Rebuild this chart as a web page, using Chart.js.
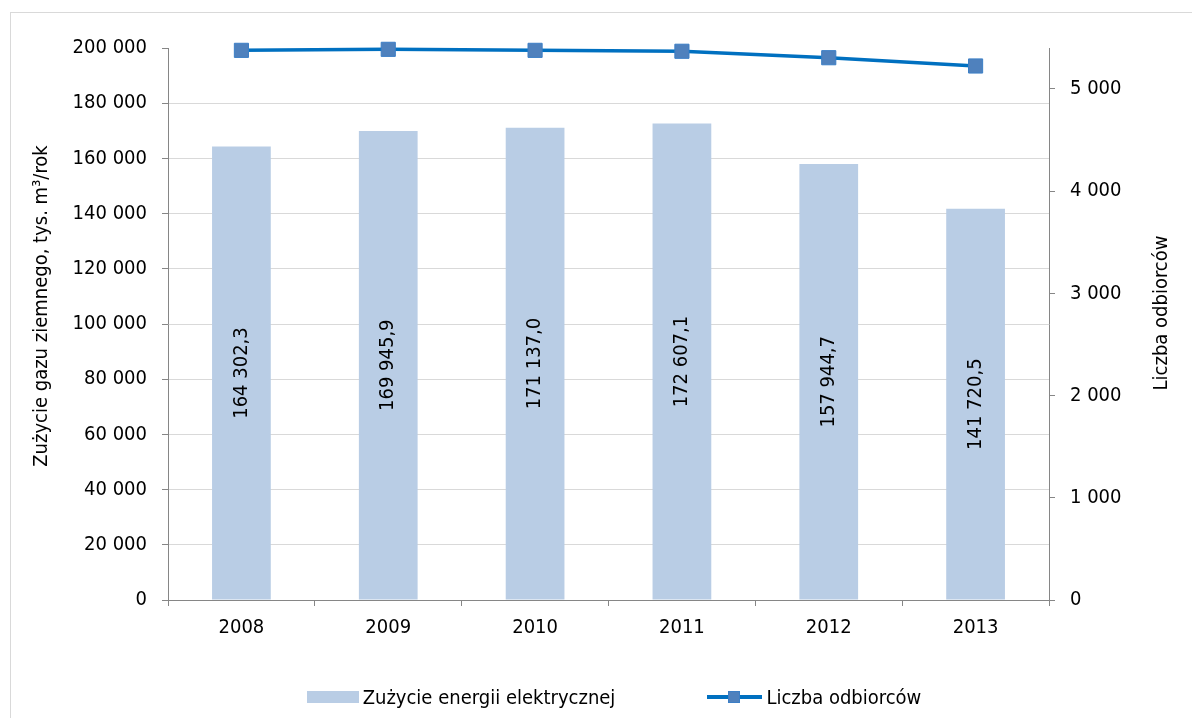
<!DOCTYPE html>
<html lang="pl">
<head>
  <meta charset="UTF-8" />
  <title>Zużycie gazu ziemnego i liczba odbiorców</title>
  <style>
    html, body {
      margin: 0; padding: 0;
      background: #fff;
      overflow: hidden;
      font-family: "DejaVu Sans Condensed", "DejaVu Sans", sans-serif;
    }
    #frame {
      position: absolute;
      left: 10px; top: 12px;
      width: 1200px; height: 720px;
      border: 1px solid #d9d9d9;
    }
    #wrap {
      position: absolute;
      left: 0; top: 0;
      width: 1192px; height: 718px;
    }
    #legend {
      position: absolute;
      left: 36px; width: 1156px;
      top: 684px;
      display: flex;
      justify-content: center;
      gap: 92px;
      font-size: 20px;
      color: #000;
      line-height: 26px;
    }
    .item { display: flex; align-items: center; }
    .swatch { width: 52px; height: 12px; margin-right: 4px; }
    .lineicon { position: relative; width: 55px; height: 14px; margin-right: 4px; }
    .lineicon .ln { position: absolute; left: 0; right: 0; top: 5px; height: 4px; }
    .lineicon .mk { position: absolute; left: 21px; top: 1px; width: 10px; height: 10px; border: 1px solid #3c7fc6; }
  </style>
  <script src="https://cdn.jsdelivr.net/npm/chart.js"></script>
</head>
<body>

<div id="frame"></div>
<div id="wrap"><canvas id="chart" width="1192" height="718"></canvas></div>
<div id="legend"></div>

<script>
  // data
  const years = ['2008', '2009', '2010', '2011', '2012', '2013'];
  const gasUse = [164302.3, 169945.9, 171137.0, 172607.1, 157944.7, 141720.5];
  const customers = [5377, 5387, 5377, 5368, 5305, 5224];

  const leftTicks = [0, 20000, 40000, 60000, 80000, 100000, 120000, 140000, 160000, 180000, 200000];
  const rightTicks = [0, 1000, 2000, 3000, 4000, 5000];

  const seriesNames = ['Zużycie energii elektrycznej', 'Liczba odbiorców'];
  const leftTitle = 'Zużycie gazu ziemnego, tys. m³/rok';
  const rightTitle = 'Liczba odbiorców';

  const FONT = '"DejaVu Sans Condensed", "DejaVu Sans", sans-serif';
  const barColor = '#b9cde5';
  const lineColor = '#0070c0';
  const markColor = '#4f81bd';
  const axisGray = '#868686';
  const gridGray = '#d9d9d9';

  // 164302.3 -> "164 302,3"
  function fmt(v, dec) {
    const parts = v.toFixed(dec).split('.');
    const whole = parts[0].replace(/\B(?=(\d{3})+(?!\d))/g, ' ');
    return parts[1] ? whole + ',' + parts[1] : whole;
  }

  // value labels inside the bars + rotated axis titles
  const extras = {
    id: 'extras',
    afterDatasetsDraw(chart) {
      const ctx = chart.ctx;
      const meta = chart.getDatasetMeta(0);
      ctx.save();
      ctx.font = '20px ' + FONT;
      ctx.fillStyle = '#000';
      ctx.textAlign = 'center';
      ctx.textBaseline = 'middle';
      meta.data.forEach((bar, i) => {
        ctx.save();
        ctx.translate(bar.x, (bar.y + bar.base) / 2);
        ctx.rotate(-Math.PI / 2);
        ctx.fillText(fmt(gasUse[i], 1), 0, 0);
        ctx.restore();
      });

      ctx.save();
      ctx.translate(42, 306);
      ctx.rotate(-Math.PI / 2);
      ctx.fillText(leftTitle, 0, 0);
      ctx.restore();

      ctx.save();
      ctx.translate(1162, 313);
      ctx.rotate(-Math.PI / 2);
      ctx.fillText(rightTitle, 0, 0);
      ctx.restore();
      ctx.restore();
    }
  };

  const tickFont = { family: FONT, size: 20 };

  new Chart(document.getElementById('chart'), {
    type: 'bar',
    data: {
      labels: years,
      datasets: [
        {
          label: seriesNames[0],
          data: gasUse,
          backgroundColor: barColor,
          borderWidth: 0,
          categoryPercentage: 1,
          barPercentage: 0.4,
          yAxisID: 'y',
          order: 2
        },
        {
          type: 'line',
          label: seriesNames[1],
          data: customers,
          borderColor: lineColor,
          borderWidth: 3.5,
          backgroundColor: markColor,
          pointStyle: 'rect',
          pointRadius: 10,
          pointBorderColor: '#3c7fc6',
          pointBorderWidth: 1,
          tension: 0,
          fill: false,
          clip: false,
          yAxisID: 'y1',
          order: 1
        }
      ]
    },
    options: {
      responsive: false,
      animation: false,
      devicePixelRatio: 1,
      layout: { padding: { top: 48, left: 36, right: 0, bottom: 58 } },
      plugins: {
        legend: { display: false },
        tooltip: { enabled: false }
      },
      scales: {
        x: {
          offset: true,
          grid: {
            offset: true,
            drawOnChartArea: false,
            tickLength: 6,
            tickColor: axisGray
          },
          border: { color: axisGray, width: 1 },
          ticks: { color: '#000', font: tickFont, padding: 10, maxRotation: 0 },
          afterFit(scale) { scale.height = 60; }
        },
        y: {
          position: 'left',
          min: 0,
          max: 200000,
          grid: {
            color: c => (c.tick && c.tick.value === 200000) ? 'rgba(0,0,0,0)' : gridGray,
            tickLength: 6,
            tickColor: axisGray
          },
          border: { color: axisGray, width: 1 },
          ticks: {
            color: '#000',
            font: tickFont,
            padding: 15,
            callback: v => fmt(v, 0)
          },
          afterBuildTicks(scale) { scale.ticks = leftTicks.map(v => ({ value: v })); },
          afterFit(scale) { scale.width = 132; }
        },
        y1: {
          position: 'right',
          min: 0,
          max: 5400,
          grid: {
            drawOnChartArea: false,
            tickLength: 6,
            tickColor: axisGray
          },
          border: { color: axisGray, width: 1 },
          ticks: {
            color: '#000',
            font: tickFont,
            padding: 15,
            callback: v => fmt(v, 0)
          },
          afterBuildTicks(scale) { scale.ticks = rightTicks.map(v => ({ value: v })); },
          afterFit(scale) { scale.width = 143; }
        }
      }
    },
    plugins: [extras]
  });

  // legend under the chart
  const legend = document.getElementById('legend');
  seriesNames.forEach((name, i) => {
    const item = document.createElement('div');
    item.className = 'item';
    let icon;
    if (i === 0) {
      icon = document.createElement('div');
      icon.className = 'swatch';
      icon.style.background = barColor;
    } else {
      icon = document.createElement('div');
      icon.className = 'lineicon';
      icon.innerHTML = '<div class="ln"></div><div class="mk"></div>';
      icon.querySelector('.ln').style.background = lineColor;
      icon.querySelector('.mk').style.background = markColor;
    }
    const txt = document.createElement('span');
    txt.textContent = name;
    item.appendChild(icon);
    item.appendChild(txt);
    legend.appendChild(item);
  });
</script>

</body>
</html>
